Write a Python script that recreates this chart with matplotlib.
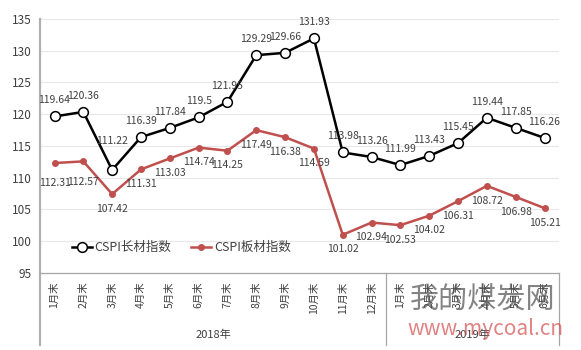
import matplotlib
matplotlib.use("Agg")
import matplotlib.pyplot as plt
import matplotlib.transforms as mtransforms

plt.rcParams['font.family'] = ['Noto Sans CJK SC', 'DejaVu Sans']

months = ["1月末", "2月末", "3月末", "4月末", "5月末", "6月末", "7月末", "8月末", "9月末",
          "10月末", "11月末", "12月末", "1月末", "2月末", "3月末", "4月末", "5月末", "6月末"]
years = ["2018年", "2019年"]
year_sizes = [12, 6]

long_idx = [119.64, 120.36, 111.22, 116.39, 117.84, 119.5, 121.95, 129.29, 129.66,
            131.93, 113.98, 113.26, 111.99, 113.43, 115.45, 119.44, 117.85, 116.26]
plate_idx = [112.31, 112.57, 107.42, 111.31, 113.03, 114.74, 114.25, 117.49, 116.38,
             114.59, 101.02, 102.94, 102.53, 104.02, 106.31, 108.72, 106.98, 105.21]

red = "#C0504D"
txt = "#404040"

fig = plt.figure(figsize=(5.81, 3.5), dpi=100)
ax = fig.add_axes([0.069, 0.22, 0.893, 0.726])

x = list(range(len(months)))
ax.plot(x, long_idx, color="black", lw=1.8, marker="o", ms=7,
        mfc="white", mec="black", mew=1.1, label="CSPI长材指数", zorder=3)
ax.plot(x, plate_idx, color=red, lw=1.8, marker="o", ms=4,
        mfc=red, mec=red, label="CSPI板材指数", zorder=3)

# data labels: long series above, plate series below
for i, v in enumerate(long_idx):
    dy = 17 if i == 2 else 8
    ax.annotate(f"{v:g}", (i, v), xytext=(0, dy), textcoords="offset points",
                ha="center", va="bottom", fontsize=7.5, color=txt)
for i, v in enumerate(plate_idx):
    dy = -11 if i in (0, 1) else -7
    ax.annotate(f"{v:g}", (i, v), xytext=(0, dy), textcoords="offset points",
                ha="center", va="top", fontsize=7.5, color=txt)

ax.set_xlim(-0.5, len(months) - 0.5)
ax.set_ylim(95, 135)
ax.set_yticks(range(95, 136, 5))
ax.tick_params(axis="y", length=0, labelsize=8.5, labelcolor=txt, pad=6)
ax.set_xticks(x)
ax.set_xticklabels(months, rotation=90, fontsize=7.5, color=txt, va="top")
ax.tick_params(axis="x", length=0, pad=6)
ax.grid(axis="y", color="#E8E8E8", lw=0.8)
ax.set_axisbelow(True)
for s in ["top", "right", "left"]:
    ax.spines[s].set_visible(False)
ax.spines["bottom"].set_color("#A6A6A6")
ax.spines["bottom"].set_linewidth(0.9)

# group separators and year labels under the month ticks
trans = mtransforms.blended_transform_factory(ax.transData, ax.transAxes)
ax.plot([-0.5, -0.5], [1.0, -0.285], transform=trans, color="#B0B0B0", lw=1.6,
        clip_on=False)
start = -0.5
for name, n in zip(years, year_sizes):
    end = start + n
    ax.plot([end, end], [0, -0.285], transform=trans, color="#A6A6A6", lw=0.9,
            clip_on=False)
    ax.text((start + end) / 2, -0.245, name, transform=trans, ha="center",
            va="center", fontsize=8, color=txt)
    start = end

leg = ax.legend(loc="lower left", bbox_to_anchor=(0.04, 0.03), ncol=2, frameon=False,
                fontsize=9, handlelength=1.6, columnspacing=1.6, handletextpad=0.2)
for t in leg.get_texts():
    t.set_color(txt)

# site watermark
fig.text(0.83, 0.14, "我的煤炭网", ha="center", va="center", fontsize=21,
         color="#505050", alpha=0.7)
fig.text(0.835, 0.06, "www.mycoal.cn", ha="center", va="center", fontsize=15,
         color="#D04040", alpha=0.65)

fig.savefig("out.png", dpi=100)
